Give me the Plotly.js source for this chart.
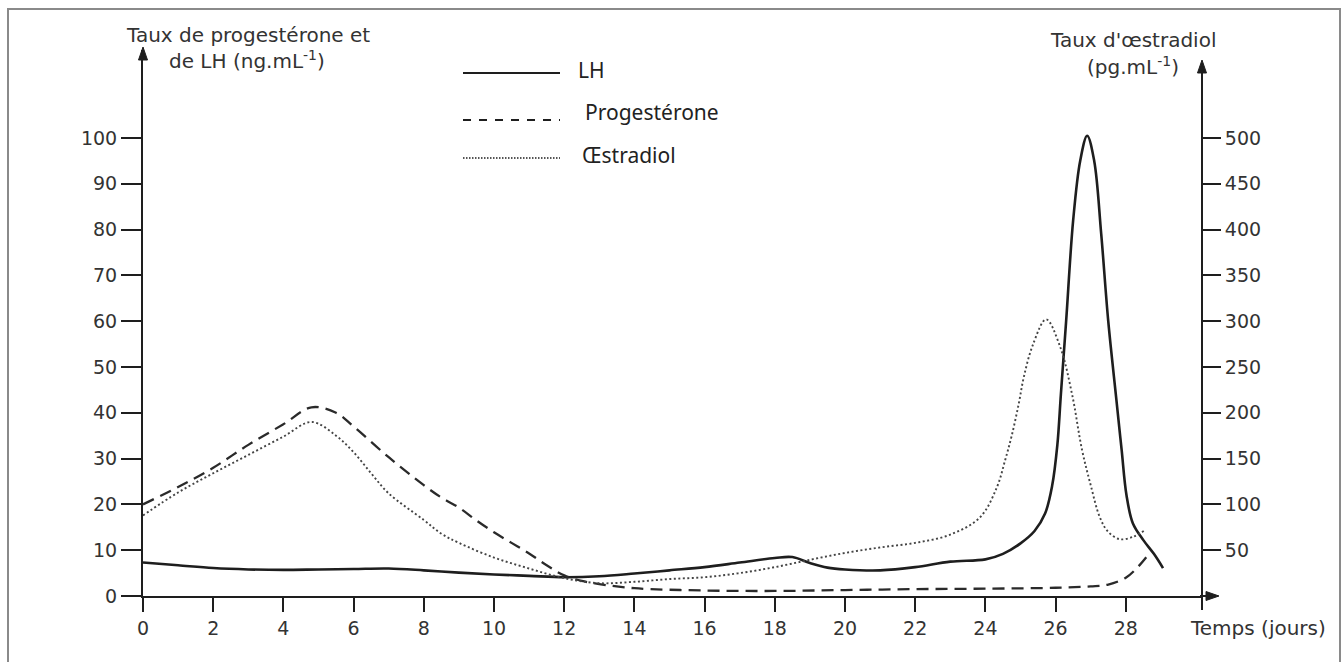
<!DOCTYPE html>
<html>
<head>
<meta charset="utf-8">
<script src="https://cdn.plot.ly/plotly-3.0.1.min.js"></script>
<style>html,body{margin:0;padding:0;background:#fff;}#chart{width:1344px;height:662px;}</style>
</head>
<body>
<div id="chart"></div>
<script>
// ---- Data ----
// Days (Temps, jours)
const daysLH = [0,1,2,3,4,5,6,7,8,9,10,11,12,13,14,15,16,17,18,18.5,19,19.5,20,21,22,23,24,24.5,25,25.4,25.7,25.9,26.05,26.15,26.3,26.5,26.7,26.9,27.1,27.3,27.5,27.73,27.88,28.02,28.2,28.5,28.8,29.06];
// LH (ng.mL-1)
const LH = [7.3,6.7,6.1,5.8,5.7,5.8,5.9,6.0,5.6,5.1,4.7,4.4,4.1,4.3,4.9,5.6,6.3,7.3,8.3,8.5,7.2,6.2,5.8,5.6,6.3,7.5,8.0,9.2,11.5,14.2,18,24,33,44,60,82,95,100.5,95,79,60,43,32,22,15.9,12.2,9.2,6.1];

const daysProg = [0,1,2,3,4,4.8,5.5,6,7,8,8.5,9,9.5,10,10.5,11,11.5,12,12.5,13,14,16,18,20,22,24,26,27,27.5,28,28.4,28.7];
// Progestérone (ng.mL-1)
const PROG = [20,23.8,28,33,37.5,41.2,40,37,30.3,24.2,21.5,19.3,16.5,13.9,11.6,9.3,6.7,4.5,3.3,2.6,1.7,1.2,1.1,1.3,1.5,1.6,1.8,2.1,2.5,4.0,6.8,9.6];

const daysE2 = [0,1,2,3,4,4.8,5.5,6,6.5,7,8,8.5,9,10,11,12,13,14,15,16,17,18,19,20,21,22,23,23.85,24.33,24.56,24.75,24.95,25.1,25.36,25.73,26.13,26.47,26.75,27.0,27.26,27.5,27.83,28.2,28.55];
// Œstradiol (pg.mL-1)
const E2 = [88,113,134,154,174,190,175,157,134,112,83,68,58,42,30,19.5,14,15.5,18.5,20.5,25,31.5,39.5,47,53,58,67,86,119,148,175,210,240,275,302,272,220,160,121,86,70,62,64.5,72];

const xTicks = [0,2,4,6,8,10,12,14,16,18,20,22,24,26,28];
const yLeftTicks = [0,10,20,30,40,50,60,70,80,90,100];
const yRightTicks = [50,100,150,200,250,300,350,400,450,500];

// ---- Geometry (pixels) ----
const L = 143, R = 1202, T = 50, B = 596;
const W = R - L, H = B - T;
const px = x => (x - L) / W;
const py = y => (B - y) / H;
const P = (x, y) => px(x).toFixed(5) + ',' + py(y).toFixed(5);

const ink = '#1e1e1e';
const tickFont = {family: 'DejaVu Sans, Liberation Sans, Arial, sans-serif', size: 19, color: '#333'};
const titleFont = {family: 'DejaVu Sans, Liberation Sans, Arial, sans-serif', size: 20, color: '#333'};
const legFont = {family: 'Noto Sans, Open Sans, sans-serif', size: 21, color: '#222'};

const traces = [
  {x: daysLH, y: LH, type: 'scatter', mode: 'lines', name: 'LH',
   line: {color: ink, width: 2.6, shape: 'spline', smoothing: 1}, showlegend: false, hoverinfo: 'x+y'},
  {x: daysProg, y: PROG, type: 'scatter', mode: 'lines', name: 'Progestérone',
   line: {color: '#2a2a2a', width: 2.3, dash: '12px,7px', shape: 'spline', smoothing: 1}, showlegend: false},
  {x: daysE2, y: E2, type: 'scatter', mode: 'lines', name: 'Œstradiol', yaxis: 'y2',
   line: {color: '#444', width: 1.9, dash: '2px,2.5px', shape: 'spline', smoothing: 1}, showlegend: false}
];

function line(x0, y0, x1, y1, w, dash) {
  return {type: 'line', xref: 'paper', yref: 'paper', x0: px(x0), y0: py(y0), x1: px(x1), y1: py(y1),
          line: {color: ink, width: w || 2, dash: dash || 'solid'}};
}
function tri(a, b, c) {
  return {type: 'path', xref: 'paper', yref: 'paper', path: 'M' + P(a[0], a[1]) + ' L' + P(b[0], b[1]) + ' L' + P(c[0], c[1]) + ' Z',
          fillcolor: ink, line: {color: ink, width: 1}};
}

const shapes = [
  // frame of the scanned figure
  {type: 'rect', xref: 'paper', yref: 'paper', x0: px(8), y0: py(9), x1: px(1340), y1: py(720),
   line: {color: '#8a8a8a', width: 2}, fillcolor: 'rgba(0,0,0,0)'},
  // right axis line & x axis extension
  line(1202, 610, 1202, 68, 2),
  line(1200, 596, 1210, 596, 2),
  // arrow heads
  tri([143, 47], [138.5, 60], [147.5, 60]),
  tri([1202, 60], [1197.5, 73], [1206.5, 73]),
  tri([1219, 596], [1206, 591.5], [1206, 600.5]),
  // legend samples
  line(463, 73, 560, 73, 2.2),
  line(463, 120, 560, 120, 2, '8px,8px'),
  line(463, 158, 560, 158, 1.6, '1.5px,1.5px')
];

function txt(text, x, y, font, xanchor) {
  return {text: text, xref: 'paper', yref: 'paper', x: px(x), y: py(y), showarrow: false,
          xanchor: xanchor || 'center', yanchor: 'middle', font: font};
}

const annotations = [
  txt('Taux de progestérone et', 248, 35, titleFont),
  txt('de LH (ng.mL<sup>-1</sup>)', 247, 60, titleFont),
  txt("Taux d'œstradiol", 1133, 40, titleFont),
  txt('(pg.mL<sup>-1</sup>)', 1133, 66, titleFont),
  txt('Temps (jours)', 1258, 628, titleFont),
  txt('LH', 576, 70, legFont, 'left'),
  txt('Progestérone', 583, 112, legFont, 'left'),
  txt('Œstradiol', 580, 155, legFont, 'left')
];

const layout = {
  width: 1344, height: 662,
  margin: {l: L, r: 1344 - R, t: T, b: 662 - B, pad: 0},
  paper_bgcolor: '#fff', plot_bgcolor: '#fff',
  showlegend: false,
  xaxis: {range: [0, W / 35.1], tickvals: xTicks, ticktext: xTicks.map(String),
          showgrid: false, zeroline: false, showline: true, linecolor: ink, linewidth: 2,
          ticks: 'outside', ticklen: 14, tickwidth: 2, tickcolor: ink, tickfont: tickFont},
  yaxis: {range: [0, H / 4.58], tickvals: yLeftTicks, ticktext: yLeftTicks.map(String),
          showgrid: false, zeroline: false, showline: true, linecolor: ink, linewidth: 2,
          ticks: 'outside', ticklen: 20, tickwidth: 2, tickcolor: ink, tickfont: tickFont},
  yaxis2: {range: [0, H / 4.58 * 5], overlaying: 'y', side: 'right', anchor: 'x',
           tickvals: yRightTicks, ticktext: yRightTicks.map(String),
           showgrid: false, zeroline: false, showline: false,
           ticks: 'outside', ticklen: 18, tickwidth: 2, tickcolor: ink, tickfont: tickFont},
  shapes: shapes,
  annotations: annotations
};

Plotly.newPlot('chart', traces, layout, {displayModeBar: false, staticPlot: true});
</script>
</body>
</html>
